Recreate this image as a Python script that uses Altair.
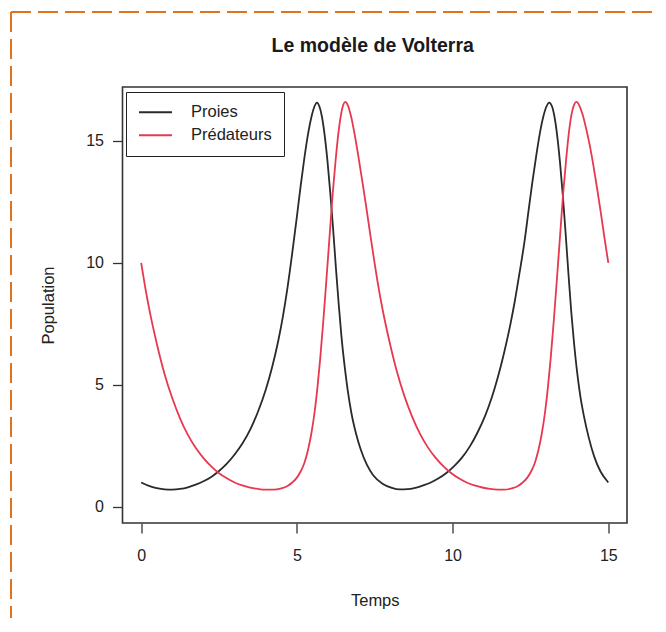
import altair as alt
import pandas as pd

# ---- data ----
prey_t = [0.0, 0.25, 0.5, 0.75, 1.0, 1.25, 1.5, 1.75, 2.0, 2.25, 2.5, 2.75, 3.0, 3.25, 3.5, 3.75,
          4.0, 4.2, 4.4, 4.55, 4.7, 4.85, 5.0, 5.12, 5.24, 5.36, 5.47, 5.56, 5.64, 5.72, 5.8, 5.89,
          5.98, 6.07, 6.16, 6.25, 6.34, 6.43, 6.53, 6.63, 6.75, 6.9, 7.05, 7.25, 7.45, 7.75, 8.05,
          8.3, 8.55, 8.8, 9.05, 9.3, 9.55, 9.8, 10.05, 10.3, 10.55, 10.8, 11.05, 11.25, 11.45,
          11.65, 11.85, 12.0, 12.15, 12.3, 12.44, 12.56, 12.68, 12.8, 12.91, 13.01, 13.1, 13.19,
          13.27, 13.36, 13.45, 13.54, 13.63, 13.72, 13.81, 13.9, 14.0, 14.1, 14.22, 14.37, 14.55,
          14.75, 15.0]
prey_v = [1.0, 0.86, 0.77, 0.72, 0.71, 0.735, 0.8, 0.91, 1.05, 1.23, 1.47, 1.77, 2.15, 2.6, 3.17, 3.9,
          4.8, 5.7, 6.8, 7.8, 9.0, 10.4, 11.9, 13.15, 14.3, 15.3, 16.0, 16.4, 16.57, 16.42, 16.02, 15.25,
          14.2, 12.9, 11.45, 9.85, 8.35, 7.0, 5.8, 4.8, 3.85, 3.0, 2.35, 1.72, 1.3, 0.95, 0.78,
          0.715, 0.725, 0.78, 0.88, 1.0, 1.17, 1.39, 1.67, 2.02, 2.47, 3.05, 3.75, 4.45, 5.3,
          6.3, 7.45, 8.45, 9.6, 10.8, 12.15, 13.3, 14.35, 15.3, 15.98, 16.4, 16.57, 16.42,
          16.0, 15.2, 14.1, 12.75, 11.2, 9.55, 8.0, 6.7, 5.5, 4.55, 3.7, 2.85, 2.05,
          1.45, 1.0]

pred_t = [0.0, 0.15, 0.3, 0.5, 0.75, 1.0, 1.25, 1.5, 1.75, 2.0, 2.25, 2.5, 2.75, 3.0, 3.25, 3.5,
          3.75, 4.0, 4.25, 4.5, 4.7, 4.85, 5.0, 5.12, 5.24, 5.36, 5.47, 5.57, 5.66, 5.75, 5.85,
          5.95, 6.05, 6.15, 6.25, 6.34, 6.42, 6.49, 6.55, 6.64, 6.74, 6.85, 6.97, 7.1, 7.22, 7.34,
          7.47, 7.6, 7.75, 7.95, 8.2, 8.45, 8.7, 8.95, 9.2, 9.45, 9.7, 9.95, 10.2, 10.45, 10.7,
          10.95, 11.2, 11.45, 11.65, 11.9, 12.1, 12.25, 12.4, 12.52, 12.64, 12.76, 12.87, 12.97,
          13.06, 13.15, 13.25, 13.35, 13.45, 13.55, 13.65, 13.74, 13.82, 13.9, 13.98, 14.07,
          14.17, 14.28, 14.4, 14.52, 14.64, 14.76, 14.88, 15.0]
pred_v = [10.0, 8.85, 7.85, 6.7, 5.45, 4.45, 3.62, 2.95, 2.42, 2.0, 1.66, 1.38, 1.17, 1.0, 0.88, 0.79,
          0.735, 0.705, 0.705, 0.76, 0.86, 1.0, 1.2, 1.45, 1.8, 2.35, 3.05, 3.9, 4.9, 6.1, 7.65,
          9.35, 11.1, 12.85, 14.3, 15.4, 16.1, 16.48, 16.6, 16.45, 16.0, 15.3, 14.4, 13.35, 12.35, 11.3,
          10.2, 9.15, 8.1, 6.9, 5.6, 4.55, 3.7, 3.0, 2.45, 2.02, 1.67, 1.39, 1.17, 1.0, 0.88,
          0.795, 0.74, 0.71, 0.705, 0.76, 0.86, 1.0, 1.2, 1.45, 1.8, 2.35, 3.05, 3.9,
          4.9, 6.1, 7.65, 9.35, 11.1, 12.85, 14.3, 15.4, 16.1, 16.48, 16.6, 16.45,
          16.1, 15.55, 14.85, 14.0, 13.05, 12.05, 11.0, 10.0]

series_names = ["Proies", "Prédateurs"]
series_colors = ["#2a2a2a", "#e8384f"]
x_ticks = [0, 5, 10, 15]
y_ticks = [0, 5, 10, 15]
title_text = "Le modèle de Volterra"

rows = [{"Temps": t, "Population": v, "serie": series_names[0]} for t, v in zip(prey_t, prey_v)]
rows += [{"Temps": t, "Population": v, "serie": series_names[1]} for t, v in zip(pred_t, pred_v)]
df = pd.DataFrame(rows)

FONT = "Liberation Sans"
W, H = 504.5, 436

lines = alt.Chart(df).mark_line(interpolate="monotone", strokeWidth=1.8).encode(
    x=alt.X("Temps:Q",
            scale=alt.Scale(domain=[-0.6, 15.6], nice=False, zero=False),
            axis=alt.Axis(values=x_ticks, title="Temps", labelPadding=14,
                          titleX=W / 2, titleY=77, titleBaseline="middle")),
    y=alt.Y("Population:Q",
            scale=alt.Scale(domain=[-0.66, 17.21], nice=False, zero=False),
            axis=alt.Axis(values=y_ticks, title="Population", labelPadding=9,
                          titleX=-74, titleY=H / 2, titleBaseline="middle", titleAlign="center")),
    color=alt.Color("serie:N",
                    scale=alt.Scale(domain=series_names, range=series_colors),
                    sort=series_names,
                    legend=alt.Legend(title=None, orient="none", legendX=3.5, legendY=5,
                                      symbolType="stroke", symbolSize=1089, symbolStrokeWidth=1.8,
                                      clipHeight=16.5, rowPadding=6, padding=12, labelOffset=18,
                                      strokeColor="#222", fillColor="white",
                                      labelFont=FONT, labelFontSize=16.5, labelColor="#222")),
)

one_row = alt.Data(values=[{"k": 1}])
title_mark = alt.Chart(one_row).mark_text(
    font=FONT, fontSize=19.5, fontWeight="bold", color="#1a1a1a",
    align="center", baseline="alphabetic"
).encode(x=alt.value(W / 2 - 2), y=alt.value(-35), text=alt.value(title_text))

top_border = alt.Chart(one_row).mark_rule(
    color="#e0731f", strokeWidth=2, strokeDash=[20, 7]
).encode(x=alt.value(-111.5), x2=alt.value(560), y=alt.value(-75))
left_border = alt.Chart(one_row).mark_rule(
    color="#e0731f", strokeWidth=2, strokeDash=[20, 7]
).encode(x=alt.value(-111.5), y=alt.value(-75), y2=alt.value(560))

chart = alt.layer(lines, title_mark, top_border, left_border).properties(
    width=W, height=H,
    padding={"left": 114.5, "top": 79, "right": 26, "bottom": 95},
    autosize=alt.AutoSizeParams(type="none"),
).configure_view(
    stroke="#333333", strokeWidth=1.6
).configure_axis(
    domain=False, grid=False, ticks=True, tickSize=10, tickColor="#333333", tickWidth=1.3,
    labelFont=FONT, labelFontSize=16, labelColor="#222222",
    titleFont=FONT, titleFontSize=16.5, titleFontWeight="normal", titleColor="#222222",
)

chart.save("out.html", embed_options={"renderer": "svg", "actions": False})
